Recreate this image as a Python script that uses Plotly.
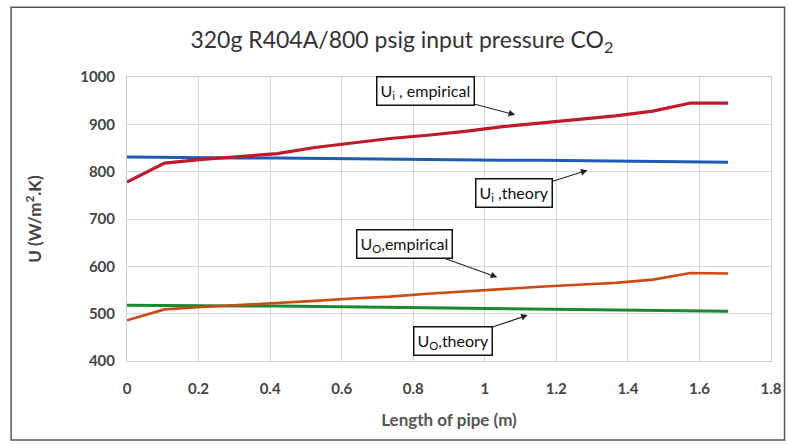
import plotly.graph_objects as go

length_m = [0, 0.105, 0.21, 0.315, 0.42, 0.525, 0.63, 0.735, 0.84, 0.945,
            1.05, 1.155, 1.26, 1.365, 1.47, 1.575, 1.68]
ui_empirical = [778, 818, 826, 832, 838, 851, 860, 870, 877, 885,
                895, 903, 911, 918, 928, 945, 945]
ui_theory = [831, 830, 830, 829, 829, 828, 827, 827, 826, 825,
             824, 824, 823, 822, 822, 821, 820]
uo_empirical = [486, 509, 514, 518, 522, 527, 532, 536, 542, 547,
                553, 557, 561, 565, 572, 586, 585]
uo_theory = [518, 517, 517, 516, 516, 515, 514, 514, 513, 512,
             511, 510, 509, 508, 507, 506, 505]

x_ticks = [0, 0.2, 0.4, 0.6, 0.8, 1, 1.2, 1.4, 1.6, 1.8]
x_tick_labels = ["0", "0.2", "0.4", "0.6", "0.8", "1", "1.2", "1.4", "1.6", "1.8"]
y_ticks = [400, 500, 600, 700, 800, 900, 1000]

FONT = "Lato"

fig = go.Figure()
fig.add_trace(go.Scatter(x=length_m, y=ui_theory, mode="lines",
                         line=dict(color="#1F5BB5", width=3), name="Ui theory"))
fig.add_trace(go.Scatter(x=length_m, y=ui_empirical, mode="lines",
                         line=dict(color="#C01A2A", width=3.2), name="Ui empirical"))
fig.add_trace(go.Scatter(x=length_m, y=uo_theory, mode="lines",
                         line=dict(color="#1A8A30", width=3), name="Uo theory"))
fig.add_trace(go.Scatter(x=length_m, y=uo_empirical, mode="lines",
                         line=dict(color="#CC4A14", width=2.6), name="Uo empirical"))

notes = [
    ("U<sub>i</sub> , empirical", 1.085, 920, 0.834, 970),
    ("U<sub>i</sub> ,theory", 1.287, 803, 1.083, 754),
    ("U<sub>O</sub>,empirical", 1.035, 577, 0.775, 647),
    ("U<sub>O</sub>,theory", 1.12, 497, 0.910, 443),
]
for text, tx, ty, bx, by in notes:
    fig.add_annotation(
        x=tx, y=ty, ax=bx, ay=by, axref="x", ayref="y", xref="x", yref="y",
        text=text, showarrow=True, arrowhead=2, arrowsize=1.2, arrowwidth=1.1,
        arrowcolor="#222222", bgcolor="white", bordercolor="#111111",
        borderwidth=1.5, borderpad=3, font=dict(family=FONT, size=16, color="#111111"),
    )

# outer chart border
fig.add_shape(type="rect", xref="paper", yref="paper",
              x0=-0.180, x1=1.021, y0=-0.278, y1=1.246,
              line=dict(color="#555555", width=1.5), fillcolor="rgba(0,0,0,0)")

fig.update_layout(
    width=788, height=444,
    margin=dict(l=127, r=17, t=77, b=83, autoexpand=False),
    paper_bgcolor="white", plot_bgcolor="white",
    showlegend=False,
    title=dict(text="320g R404A/800 psig input pressure CO<sub>2</sub>",
               x=0.51, xanchor="center", y=0.91, yanchor="middle",
               font=dict(family=FONT, size=23, color="#333333")),
    font=dict(family=FONT),
)
fig.update_xaxes(range=[0, 1.8], tickvals=x_ticks, ticktext=x_tick_labels,
                 showgrid=True, gridcolor="#D3D8E0", gridwidth=1,
                 showline=True, linecolor="#C8CCD2", mirror=True, zeroline=False,
                 ticks="", ticklabelstandoff=14, automargin=False,
                 tickfont=dict(family=FONT, size=15, color="#444444", weight="bold"),
                 title=dict(text="Length of pipe (m)", standoff=18,
                            font=dict(family=FONT, size=17, color="#555555", weight="bold")))
fig.update_yaxes(range=[400, 1000], tickvals=y_ticks,
                 showgrid=True, gridcolor="#D3D8E0", gridwidth=1,
                 showline=True, linecolor="#C8CCD2", mirror=True, zeroline=False,
                 ticks="", ticklabelstandoff=8, automargin=False,
                 tickfont=dict(family=FONT, size=15, color="#444444", weight="bold"),
                 title=dict(text="U (W/m<sup>2</sup>.K)", standoff=34,
                            font=dict(family=FONT, size=17, color="#444444", weight="bold")))

fig.write_html("out.html", config={"displayModeBar": False},
               post_script="document.body.style.margin='0';")
